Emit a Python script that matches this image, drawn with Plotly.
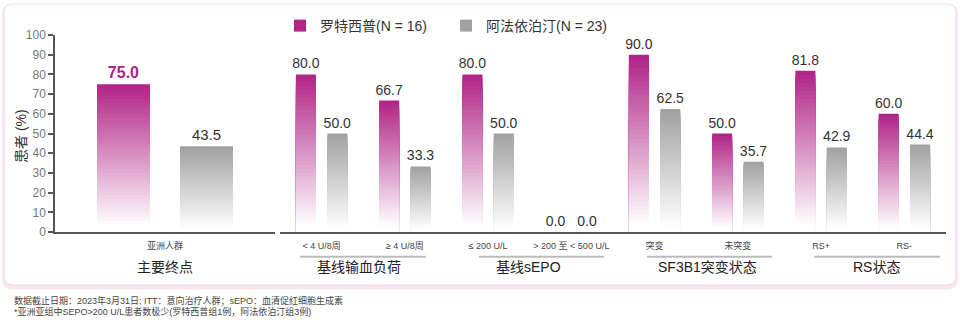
import plotly.graph_objects as go

# ---------------- data ----------------
PRIMARY_CATS = ["亚洲人群"]
PRIMARY_LUSPA = [75.0]
PRIMARY_EPO = [43.5]

SUB_CATS = ["< 4 U/8周", "≥ 4 U/8周", "≤ 200 U/L", "> 200 至 < 500 U/L",
            "突变", "未突变", "RS+", "RS-"]
SUB_LUSPA = [80.0, 66.7, 80.0, 0.0, 90.0, 50.0, 81.8, 60.0]
SUB_EPO = [50.0, 33.3, 50.0, 0.0, 62.5, 35.7, 42.9, 44.4]

PRIMARY_GROUP = "主要终点"
GROUP_NAMES = ["基线输血负荷", "基线sEPO", "SF3B1突变状态", "RS状态"]
GROUP_FIRST_CAT = [0, 2, 4, 6]

SERIES_NAMES = ["罗特西普(N = 16)", "阿法依泊汀(N = 23)"]
Y_TITLE = "患者 (%)"
FOOTNOTES = [
    "数据截止日期：2023年3月31日; ITT：意向治疗人群；sEPO：血清促红细胞生成素",
    "*亚洲亚组中SEPO>200 U/L患者数极少(罗特西普组1例，阿法依泊汀组3例)",
]

# ---------------- style ----------------
FIG_W, FIG_H = 960, 323
ML, MR, MT, MB = 55, 14, 35, 91
PW = FIG_W - ML - MR
PH = FIG_H - MT - MB
FONT = "Liberation Sans, Arial, Noto Sans CJK SC, sans-serif"
MAGENTA = (176, 34, 134)
GRAY = (160, 160, 160)
N_STEPS = 40
# group underline spans / label centres, relative to first category of group
GROUP_LINE_SPAN = [(-0.26, 1.25), (-0.11, 1.39), (-0.09, 1.41), (-0.08, 1.43)]
GROUP_LABEL_POS = [0.45, 0.48, 0.64, 0.66]


def px_x(px):
    return (px - ML) / PW


def px_y(py):
    return (MT + PH - py) / PH


def mix(rgb, t):
    r, g, b = (round(255 + (c - 255) * t) for c in rgb)
    return f"rgb({r},{g},{b})"


fig = go.Figure()


def add_gradient_bars(cats, values, xaxis, group, rgb, name, show_legend, tfont):
    for k in range(N_STEPS):
        f = 1 - k / N_STEPS
        fm = f - 0.5 / N_STEPS
        t = max(0.0, (fm - 0.04) / 0.96)
        if k == 0:
            kw = dict(text=[f"{v:.1f}" for v in values], textposition="outside",
                      textfont=tfont, constraintext="none", cliponaxis=False,
                      hovertemplate="%{x}: %{y:.1f}%<extra>" + name + "</extra>")
        else:
            kw = dict(hoverinfo="skip")
        fig.add_trace(go.Bar(
            x=cats, y=[v * f for v in values], xaxis=xaxis, yaxis="y",
            offsetgroup=group, name=name, legendgroup=name,
            showlegend=(k == 0 and show_legend),
            marker=dict(color=mix(rgb, t), line=dict(width=0)),
            **kw))


txt_sub = dict(family=FONT, size=14, color="#333333")
add_gradient_bars(PRIMARY_CATS, PRIMARY_LUSPA, "x", "L", MAGENTA, SERIES_NAMES[0], True,
                  dict(family=FONT, size=16, color="#B02286", weight="bold"))
add_gradient_bars(PRIMARY_CATS, PRIMARY_EPO, "x", "E", GRAY, SERIES_NAMES[1], True,
                  dict(family=FONT, size=15, color="#333333"))
add_gradient_bars(SUB_CATS, SUB_LUSPA, "x2", "L", MAGENTA, SERIES_NAMES[0], False, txt_sub)
add_gradient_bars(SUB_CATS, SUB_EPO, "x2", "E", GRAY, SERIES_NAMES[1], False, txt_sub)

# ---------------- card background ----------------
def rrect(w, h, r):
    return (f"M {-w + r},{-h} L {w - r},{-h} Q {w},{-h} {w},{-h + r} "
            f"L {w},{h - r} Q {w},{h} {w - r},{h} L {-w + r},{h} "
            f"Q {-w},{h} {-w},{h - r} L {-w},{-h + r} Q {-w},{-h} {-w + r},{-h} Z")

shapes = []
cx, cy = 480, 144.5
shapes.append(dict(type="path", xref="paper", yref="paper", xsizemode="pixel", ysizemode="pixel",
                   xanchor=px_x(cx), yanchor=px_y(cy + 2.5), path=rrect(478, 142.5, 11),
                   fillcolor="#f8e6f1", line=dict(width=0), layer="below"))
shapes.append(dict(type="path", xref="paper", yref="paper", xsizemode="pixel", ysizemode="pixel",
                   xanchor=px_x(cx), yanchor=px_y(cy), path=rrect(476, 140.5, 9),
                   fillcolor="white", line=dict(color="#f3dbe9", width=1.2), layer="below"))

annotations = []
# group underlines and labels
for name, first, (a, b), lp in zip(GROUP_NAMES, GROUP_FIRST_CAT, GROUP_LINE_SPAN, GROUP_LABEL_POS):
    shapes.append(dict(type="line", xref="x2", yref="paper", x0=first + a, x1=first + b,
                       y0=px_y(256.7), y1=px_y(256.7), line=dict(color="#bbbbbb", width=2)))
    annotations.append(dict(text=name, xref="x2", yref="paper", x=first + lp, y=px_y(267),
                            showarrow=False, xanchor="center", yanchor="middle",
                            font=dict(family=FONT, size=14, color="#222222")))
annotations.append(dict(text=PRIMARY_GROUP, xref="x", yref="paper", x=0, y=px_y(267),
                        showarrow=False, xanchor="center", yanchor="middle",
                        font=dict(family=FONT, size=14, color="#222222")))
# y title
annotations.append(dict(text=Y_TITLE, xref="paper", yref="paper", x=px_x(21), y=px_y(136),
                        textangle=-90, showarrow=False, xanchor="center", yanchor="middle",
                        font=dict(family=FONT, size=14, color="#333333")))
# footnotes
for i, line in enumerate(FOOTNOTES):
    annotations.append(dict(text=line, xref="paper", yref="paper", x=px_x(12), y=px_y(300.5 + 11 * i),
                            showarrow=False, xanchor="left", yanchor="middle",
                            font=dict(family=FONT, size=9, color="#444444")))

axis_common = dict(type="category", showline=True, linecolor="#555555", linewidth=2,
                   ticks="", showgrid=False, zeroline=False, anchor="y", ticklabelstandoff=4,
                   tickfont=dict(family=FONT, size=9, color="#444444"), fixedrange=True)

fig.update_layout(
    width=FIG_W, height=FIG_H,
    margin=dict(l=ML, r=MR, t=MT, b=MB, autoexpand=False),
    paper_bgcolor="white", plot_bgcolor="rgba(0,0,0,0)",
    barmode="group", bargap=0.245, bargroupgap=0.363,
    font=dict(family=FONT, color="#333333"),
    xaxis=dict(domain=[0, px_x(275)], range=[-0.5, 0.5], **axis_common),
    xaxis2=dict(domain=[px_x(280), 1], range=[-0.5, len(SUB_CATS) - 0.5], **axis_common),
    yaxis=dict(range=[0, 100], dtick=10, showline=True, linecolor="#555555", linewidth=1.5,
               ticks="outside", ticklen=5, tickwidth=1.5, tickcolor="#555555",
               showgrid=False, zeroline=False, anchor="x", fixedrange=True,
               tickfont=dict(family=FONT, size=12, color="#777777")),
    legend=dict(orientation="h", x=px_x(280), xanchor="left", y=px_y(26), yanchor="middle",
                font=dict(family=FONT, size=14, color="#333333"), bgcolor="rgba(0,0,0,0)",
                traceorder="normal", entrywidth=121, entrywidthmode="pixels"),
    shapes=shapes, annotations=annotations,
    showlegend=True,
)

fig.write_html("out.html")
